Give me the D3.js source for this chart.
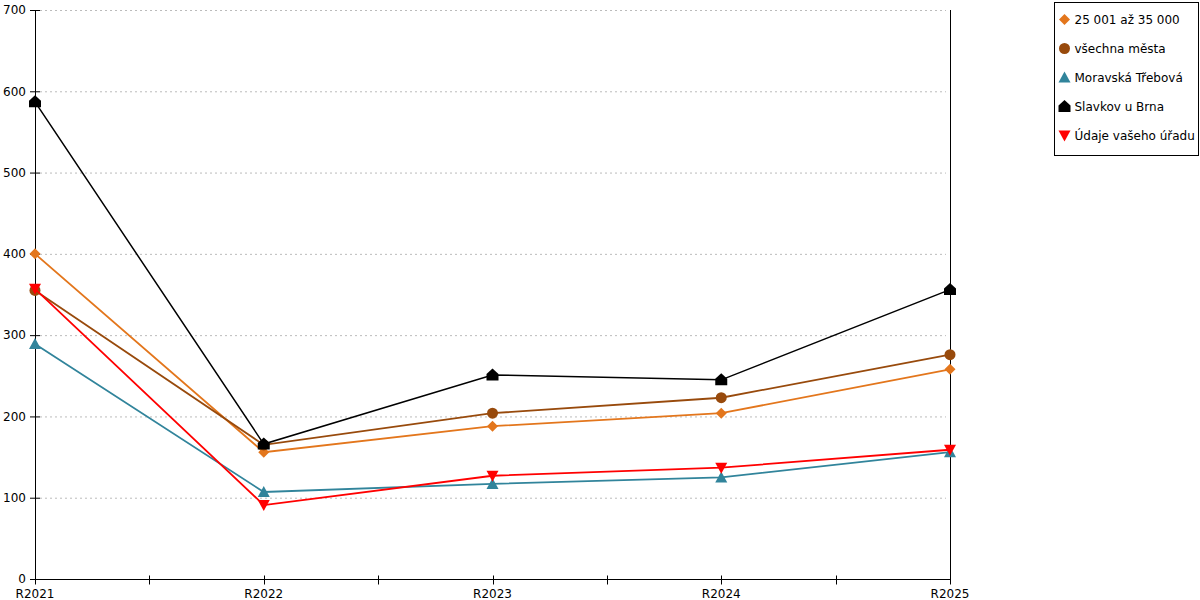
<!DOCTYPE html>
<html lang="cs">
<head>
  <meta charset="utf-8" />
  <title>Chart</title>
  <script src="https://cdn.jsdelivr.net/npm/d3@7"></script>
  <style>
    html, body { margin: 0; background: #fff; }
    svg { display: block; font-family: "DejaVu Sans", Verdana, sans-serif; }
  </style>
</head>
<body>
<script>
// values
const years = ["R2021", "R2022", "R2023", "R2024", "R2025"];
const yTicks = [0, 100, 200, 300, 400, 500, 600, 700];

const seriesNames = ["25 001 až 35 000", "všechna města", "Moravská Třebová", "Slavkov u Brna", "Údaje vašeho úřadu"];
const seriesColors = ["#e3761c", "#984a0c", "#31849b", "#000000", "#ff0000"];
const seriesShapes = ["diamond", "circle", "triangle", "house", "triangleDown"];

const group25k   = [400, 156, 188, 204, 258];
const allTowns   = [355, 165, 204, 223, 276];
const moravska   = [289, 107, 117, 125, 156];
const slavkov    = [587, 166, 251, 245, 356];
const yourOffice = [357, 91, 127, 137, 159];
const seriesValues = [group25k, allTowns, moravska, slavkov, yourOffice];

const W = 1200, H = 600;
const margin = { left: 35, right: 250, top: 10, bottom: 21 };

const svg = d3.select("body").append("svg")
  .attr("width", W).attr("height", H);

const x = d3.scalePoint().domain(years).range([margin.left, W - margin.right]);
const y = d3.scaleLinear().domain([0, 700]).range([H - margin.bottom, margin.top]);

// grid
svg.append("g")
  .selectAll("line")
  .data(yTicks.filter(d => d > 0))
  .join("line")
    .attr("x1", margin.left + 5).attr("x2", W - margin.right - 4)
    .attr("y1", d => y(d) + 0.5).attr("y2", d => y(d) + 0.5)
    .attr("stroke", "#bbb")
    .attr("stroke-dasharray", "2,3");

// y axis (d3 adds the half-pixel offset itself)
const yAxis = svg.append("g")
  .attr("transform", `translate(${margin.left},0)`)
  .call(d3.axisLeft(y).tickValues(yTicks).tickSize(5).tickSizeOuter(0));
yAxis.selectAll(".tick line").attr("x2", 5).attr("x1", -5).attr("stroke", "#000");
yAxis.selectAll("text").attr("x", -9).attr("font-size", 12).attr("fill", "#000")
  .attr("font-family", "DejaVu Sans, Verdana, sans-serif");
yAxis.select(".domain").attr("stroke", "#000");

// right vertical line
svg.append("line")
  .attr("x1", x("R2025") + 0.5).attr("x2", x("R2025") + 0.5)
  .attr("y1", margin.top).attr("y2", H - margin.bottom)
  .attr("stroke", "#000");

// x axis with minor ticks halfway
const xAxis = svg.append("g")
  .attr("transform", `translate(0,${y(0) + 0.5})`);
xAxis.append("line")
  .attr("x1", margin.left).attr("x2", W - margin.right)
  .attr("stroke", "#000");
const step = x.step();
const tickPos = d3.range(0, years.length * 2 - 1).map(i => margin.left + i * step / 2);
xAxis.selectAll(".tk")
  .data(tickPos)
  .join("line")
    .attr("class", "tk")
    .attr("x1", d => Math.round(d) + 0.5).attr("x2", d => Math.round(d) + 0.5)
    .attr("y1", -4).attr("y2", 5)
    .attr("stroke", "#000");
xAxis.selectAll("text")
  .data(years)
  .join("text")
    .attr("x", d => x(d))
    .attr("y", 18)
    .attr("text-anchor", "middle")
    .attr("font-size", 12)
    .text(d => d);

// marker shapes
function markerPath(shape) {
  switch (shape) {
    case "diamond": return "M0,-5.5L5.5,0L0,5.5L-5.5,0Z";
    case "circle": return d3.symbol(d3.symbolCircle, 95)();
    case "triangle": return "M0,-6L6,5L-6,5Z";
    case "triangleDown": return "M-6,-5L6,-5L0,6Z";
    case "house": return "M0,-6.5L6,-1L6,5.5L-6,5.5L-6,-1Z";
  }
}

const line = d3.line().x((d, i) => x(years[i])).y(d => y(d));

seriesValues.forEach((vals, s) => {
  const g = svg.append("g");
  g.append("path")
    .datum(vals)
    .attr("d", line)
    .attr("fill", "none")
    .attr("stroke", seriesColors[s])
    .attr("stroke-width", s === 3 ? 1.5 : 1.8);
  g.selectAll("path.m")
    .data(vals)
    .join("path")
      .attr("class", "m")
      .attr("transform", (d, i) => `translate(${x(years[i])},${y(d)})`)
      .attr("d", markerPath(seriesShapes[s]))
      .attr("fill", seriesColors[s]);
});

// legend
const lg = svg.append("g").attr("transform", "translate(1054.5,2.5)");
lg.append("rect")
  .attr("width", 144).attr("height", 153)
  .attr("fill", "#fff").attr("stroke", "#000");
seriesNames.forEach((name, i) => {
  const row = lg.append("g").attr("transform", `translate(0,${17 + i * 29})`);
  row.append("path")
    .attr("transform", "translate(10,0)")
    .attr("d", markerPath(seriesShapes[i]))
    .attr("fill", seriesColors[i]);
  row.append("text")
    .attr("x", 20).attr("y", 4.5)
    .attr("font-size", 12)
    .text(name);
});
</script>
</body>
</html>
